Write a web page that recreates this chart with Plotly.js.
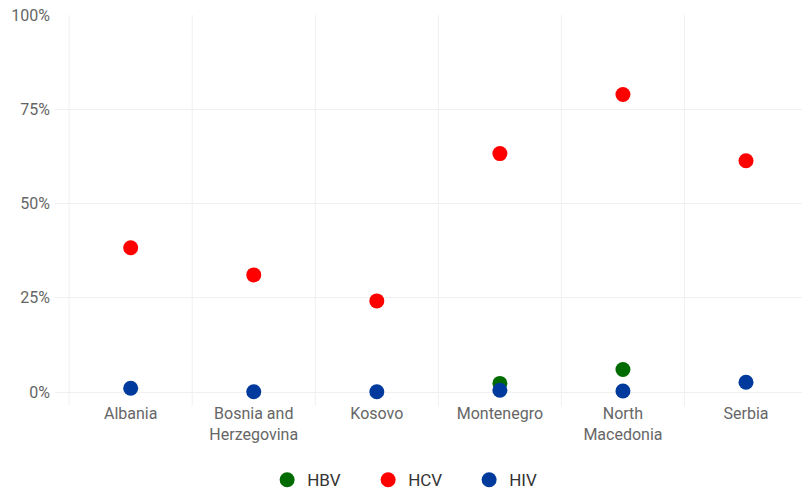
<!DOCTYPE html>
<html><head><meta charset="utf-8">
<script src="https://cdn.plot.ly/plotly-3.0.1.min.js"></script>
<style>body{margin:0;padding:0;background:#fff}#chart{width:802px;height:490px}</style>
</head><body><div id="chart"></div>
<script>
const countries = ["Albania", "Bosnia and<br>Herzegovina", "Kosovo", "Montenegro", "North<br>Macedonia", "Serbia"];
const hbv = [null, null, null, 2.3, 6.0, null];
const hcv = [38.3, 31.1, 24.2, 63.3, 79.0, 61.4];
const hiv = [1.0, 0.1, 0.1, 0.5, 0.3, 2.6];
const yTickVals = [0, 25, 50, 75, 100];
const yTickText = ["0%", "25%", "50%", "75%", "100%"];
const seriesNames = ["HBV", "HCV", "HIV"];
const seriesColors = ["#006b00", "#ff0000", "#003a9c"];

const idx = countries.map((_, i) => i);
const data = [hbv, hcv, hiv].map((vals, k) => ({
  type: "scatter", mode: "markers", name: seriesNames[k],
  x: idx, y: vals,
  marker: {color: seriesColors[k], size: 15},
  hoverinfo: "skip"
}));

const layout = {
  width: 802, height: 490,
  margin: {l: 55, r: 0, t: 15, b: 84},
  paper_bgcolor: "#fff", plot_bgcolor: "#fff",
  font: {family: "Roboto, sans-serif", size: 16, color: "#666"},
  showlegend: true,
  legend: {orientation: "h", x: 0.522, xref: "container", xanchor: "center",
           y: 0.02, yref: "container", yanchor: "middle",
           font: {size: 17, color: "#333"}, itemwidth: 30, entrywidth: 56, entrywidthmode: "pixels"},
  xaxis: {
    range: [-0.615, 5.455], tickmode: "array", tickvals: idx, ticktext: countries,
    showgrid: false, zeroline: false, showline: false, ticks: "", ticklabelstandoff: -4,
    tickfont: {size: 16, color: "#666"}, fixedrange: true, automargin: false
  },
  yaxis: {
    range: [-3.7, 100.1], tickmode: "array", tickvals: yTickVals, ticktext: yTickText,
    showgrid: true, gridcolor: "#f0f0f0", gridwidth: 1, zeroline: false, showline: false,
    ticks: "", ticklabelstandoff: 4, tickfont: {size: 16, color: "#666"}, fixedrange: true, automargin: false
  },
  shapes: [0.5, 1.5, 2.5, 3.5, 4.5, -0.5].map(b => ({
    type: "line", xref: "x", yref: "paper", x0: b, x1: b, y0: 0, y1: 1,
    line: {color: "#f0f0f0", width: 1}, layer: "below"
  }))
};
Plotly.newPlot("chart", data, layout, {displayModeBar: false, staticPlot: true});
</script></body></html>
